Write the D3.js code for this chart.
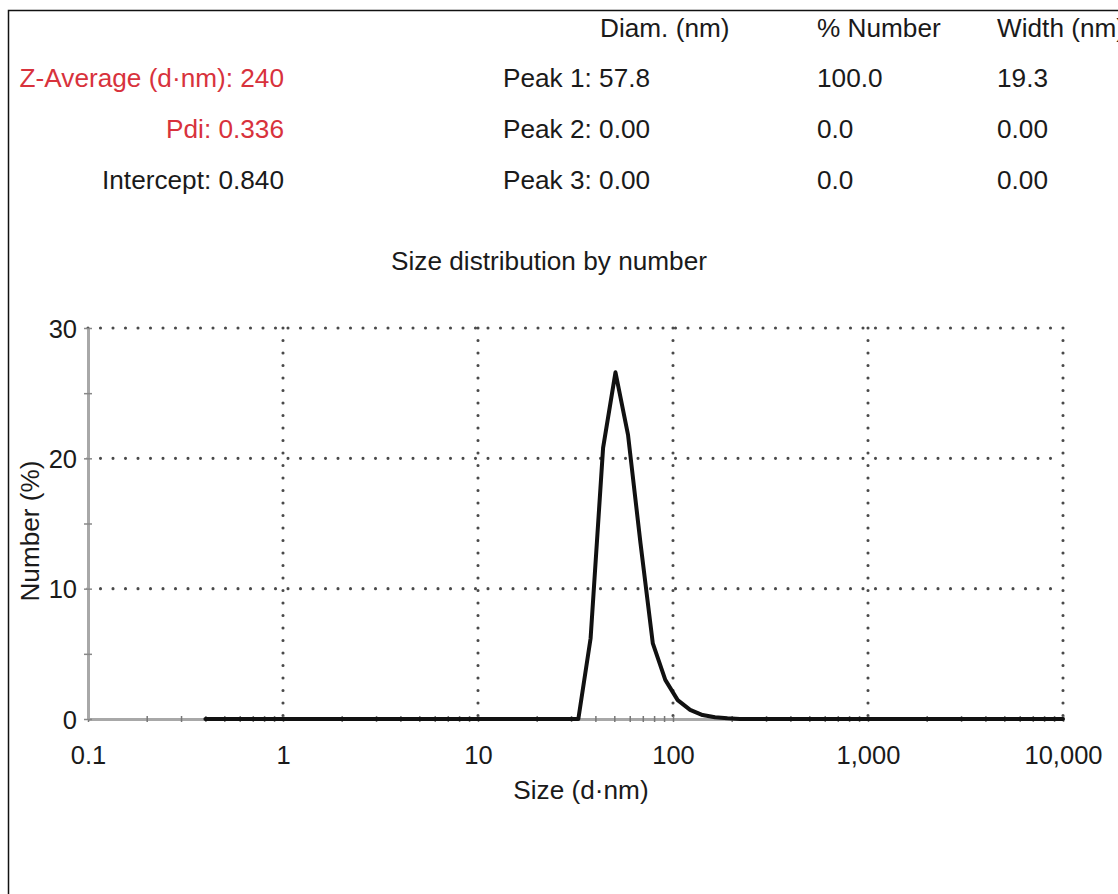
<!DOCTYPE html>
<html>
<head>
<meta charset="utf-8">
<script src="https://cdn.jsdelivr.net/npm/d3@7"></script>
<style>
	body { margin: 0; background: #fff; }
	svg text { font-family: "Liberation Sans", Arial, Helvetica, sans-serif; fill: #1a1a1a; }
</style>
</head>
<body>
<svg id="chart" width="1118" height="894"></svg>
<script>
// summary block (left column)
const summaryLabels = ["Z-Average (d\u00b7nm): 240", "Pdi: 0.336", "Intercept: 0.840"];
const summaryColors = ["#d8323c", "#d8323c", "#1a1a1a"];

// peak table
const peakHeaders = ["Diam. (nm)", "% Number", "Width (nm)"];
const peakNames = ["Peak 1", "Peak 2", "Peak 3"];
const peakDiam = ["57.8", "0.00", "0.00"];
const peakNumber = ["100.0", "0.0", "0.0"];
const peakWidth = ["19.3", "0.00", "0.00"];

// size distribution by number
const sizes =   [0.4, 32.7, 37.8, 43.8, 50.7, 58.8, 68.1, 78.8, 91.3, 105.7, 122.4, 141.8, 164.2, 190.1, 220.2, 10000];
const numbers = [0,   0,    6.2,  20.8, 26.6, 21.8, 13.5, 5.8,  3.0,  1.45,  0.7,   0.3,   0.13,  0.05,  0,     0];

const xTicks = [0.1, 1, 10, 100, 1000, 10000];
const xTickLabels = ["0.1", "1", "10", "100", "1,000", "10,000"];
const yTicks = [0, 10, 20, 30];
const yMinorTicks = [5, 15, 25];

const textSize = "26.2px";
const tickSize = "25.5px";

const svg = d3.select("#chart");

let xScale = d3.scaleLog().domain([0.1, 10000]).range([88, 1063]);
let yScale = d3.scaleLinear().domain([0, 30]).range([719, 328]);

// outer frame (runs off the right and bottom edges)
svg.append("rect")
	.attr("x", 8.5)
	.attr("y", 10.5)
	.attr("width", 1200)
	.attr("height", 1000)
	.attr("fill", "none")
	.attr("stroke", "#111")
	.attr("stroke-width", 1.5);

// summary text
summaryLabels.forEach(function(t, i) {
	svg.append("text")
		.attr("x", 284)
		.attr("y", 87 + i * 51)
		.attr("text-anchor", "end")
		.style("font-size", textSize)
		.style("fill", summaryColors[i])
		.text(t);
});

// table header and rows
const colX = [600, 817, 997];
peakHeaders.forEach(function(h, i) {
	svg.append("text")
		.attr("x", colX[i])
		.attr("y", 37)
		.style("font-size", textSize)
		.text(h);
});
peakNames.forEach(function(p, i) {
	let y = 87 + i * 51;
	svg.append("text").attr("x", 503).attr("y", y).style("font-size", textSize).text(p + ": " + peakDiam[i]);
	svg.append("text").attr("x", colX[1]).attr("y", y).style("font-size", textSize).text(peakNumber[i]);
	svg.append("text").attr("x", colX[2]).attr("y", y).style("font-size", textSize).text(peakWidth[i]);
});

// chart title
svg.append("text")
	.attr("x", 549)
	.attr("y", 270)
	.attr("text-anchor", "middle")
	.style("font-size", textSize)
	.text("Size distribution by number");

// dotted grid
const grid = svg.append("g")
	.attr("stroke", "#4a4a4a")
	.attr("stroke-width", 3.1)
	.attr("stroke-linecap", "round")
	.attr("stroke-dasharray", "0 12.5");

grid.selectAll(".hgrid")
	.data(yTicks.filter(d => d > 0))
	.enter().append("line")
	.attr("x1", xScale(0.1))
	.attr("x2", xScale(10000))
	.attr("y1", d => yScale(d))
	.attr("y2", d => yScale(d));

grid.selectAll(".vgrid")
	.data(xTicks.filter(d => d > 0.1))
	.enter().append("line")
	.attr("x1", d => xScale(d))
	.attr("x2", d => xScale(d))
	.attr("y1", yScale(30))
	.attr("y2", yScale(0));

// x axis (grey baseline with log minor ticks)
let xAxis = d3.axisBottom(xScale)
	.tickValues(xScale.ticks())
	.tickSizeOuter(0)
	.tickSizeInner(4)
	.tickFormat(function(d) {
		let i = xTicks.indexOf(d);
		return i >= 0 ? xTickLabels[i] : "";
	});

let gx = svg.append("g")
	.attr("transform", "translate(0," + yScale(0) + ")")
	.call(xAxis);
gx.select(".domain").attr("stroke", "#a8a8a8").attr("stroke-width", 3);
gx.selectAll(".tick line").attr("y1", -3).attr("y2", 3).attr("stroke", "#777").attr("stroke-width", 1.5);
gx.selectAll(".tick text")
	.attr("y", 45)
	.attr("dy", null)
	.style("font-size", tickSize)
	.style("fill", "#1a1a1a");

// y axis
let yAxis = d3.axisLeft(yScale)
	.tickValues(yTicks.concat(yMinorTicks))
	.tickSizeOuter(0)
	.tickSizeInner(4)
	.tickPadding(7)
	.tickFormat(d => yTicks.indexOf(d) >= 0 ? d : "");

let gy = svg.append("g")
	.attr("transform", "translate(" + xScale(0.1) + ",0)")
	.call(yAxis);
gy.select(".domain").attr("stroke", "#a8a8a8").attr("stroke-width", 3);
gy.selectAll(".tick line").attr("x1", -4).attr("x2", 4).attr("stroke", "#888").attr("stroke-width", 1.5);
gy.selectAll(".tick text")
	.attr("dy", "0.36em")
	.style("font-size", tickSize)
	.style("fill", "#1a1a1a");

// distribution curve
let line = d3.line()
	.x((d, i) => xScale(sizes[i]))
	.y(d => yScale(d));

svg.append("path")
	.datum(numbers)
	.attr("d", line)
	.attr("fill", "none")
	.attr("stroke", "#111")
	.attr("stroke-width", 4)
	.attr("stroke-linejoin", "round")
	.attr("stroke-linecap", "round");

// axis titles
svg.append("text")
	.attr("x", 581)
	.attr("y", 799)
	.attr("text-anchor", "middle")
	.style("font-size", textSize)
	.text("Size (d\u00b7nm)");

svg.append("text")
	.attr("transform", "translate(39,531) rotate(-90)")
	.attr("text-anchor", "middle")
	.style("font-size", textSize)
	.text("Number (%)");
</script>
</body>
</html>
